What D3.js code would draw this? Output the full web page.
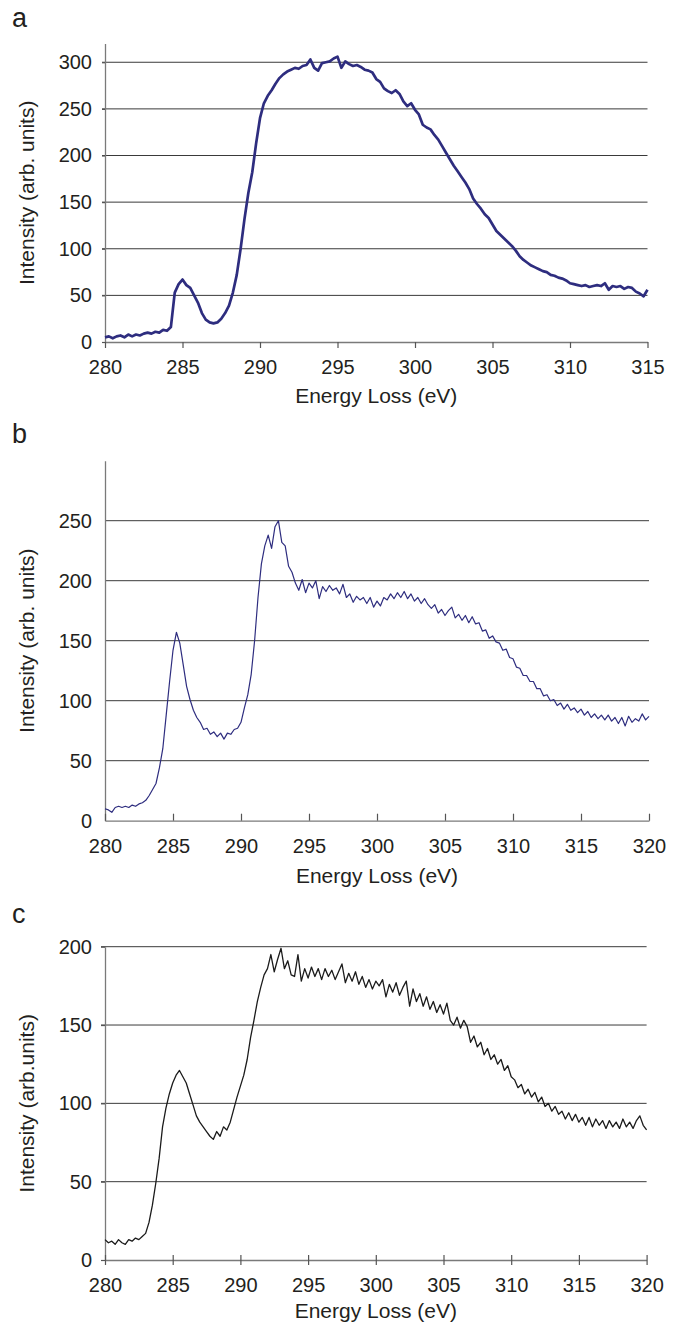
<!DOCTYPE html>
<html>
<head>
<meta charset="utf-8">
<script src="https://cdn.jsdelivr.net/npm/d3@7"></script>
<style>
body { margin: 0; background: #fff; }
text { font-family: "Liberation Sans", Arial, Helvetica, sans-serif; fill: #231f20; }
</style>
</head>
<body>
<div id="vis"></div>
<script>
var energyStart = 280, energyStep = 0.25;

var intensityA = [
  5,6,4,6,7,5,8,6,8,7,9,10,9,11,10,13,12,16,53,62,
  67,61,58,50,42,31,24,21,20,21,25,31,39,53,72,100,132,160,182,213,
  240,256,264,270,277,283,287,290,292,294,293,296,297,303,294,291,299,300,301,304,
  306,294,301,298,296,297,295,292,291,289,282,279,272,269,267,270,266,258,253,256,
  249,244,233,230,228,222,217,210,203,196,189,183,177,171,164,154,148,143,137,133,
  126,119,115,111,107,103,98,92,88,85,82,80,78,76,75,72,71,69,68,66,
  63,62,61,60,61,59,60,61,60,63,56,60,59,60,57,59,58,54,52,49,
  56
];

var intensityB = [
  10,9,7,11,12,11,12,11,13,12,14,15,17,21,26,31,44,60,88,116,
  142,157,148,130,112,101,92,86,82,76,77,72,74,70,73,68,73,72,76,77,
  82,94,105,122,150,186,214,229,238,227,245,250,232,229,212,207,198,192,201,190,
  198,194,200,185,195,191,196,192,194,189,197,186,189,182,187,184,186,181,186,178,
  183,179,186,184,189,185,190,186,191,185,189,183,186,181,185,180,177,180,173,176,
  171,175,178,169,172,167,171,165,170,164,165,158,159,152,154,149,148,142,143,136,
  135,128,127,121,121,116,116,110,110,104,105,100,101,96,98,93,97,92,94,90,
  93,88,91,86,89,85,88,84,88,83,86,81,86,79,87,82,85,83,89,84,
  87
];

var intensityC = [
  13,11,12,10,13,11,10,13,12,14,13,15,17,24,35,49,65,85,97,106,
  113,118,121,117,113,106,99,92,88,85,82,79,77,82,79,85,83,88,96,104,
  111,118,128,142,153,165,174,182,186,195,184,192,199,186,191,182,181,195,178,186,
  180,187,181,186,179,186,181,185,179,184,189,177,183,178,184,176,181,174,179,173,
  178,175,179,168,176,171,177,169,174,178,162,173,165,170,162,168,160,165,158,163,
  157,164,153,150,155,148,153,149,139,143,136,139,131,135,128,131,125,128,121,124,
  117,115,110,112,106,109,104,107,101,104,98,100,95,98,93,95,90,94,89,93,
  88,91,86,91,85,90,86,89,84,89,85,88,84,90,85,88,84,89,92,86,
  83
];

var xTicksA = [280, 285, 290, 295, 300, 305, 310, 315];
var xTicksBC = [280, 285, 290, 295, 300, 305, 310, 315, 320];
var yTicksA = [0, 50, 100, 150, 200, 250, 300];
var yTicksB = [0, 50, 100, 150, 200, 250];
var yTicksC = [0, 50, 100, 150, 200];

var svg = d3.select("#vis")
    .append("svg")
    .attr("width", 681)
    .attr("height", 1329);

var panels = [
  { letter: "a", letterY: 27, values: intensityA, xMax: 315, yMax: 320,
    xTicks: xTicksA, yTicks: yTicksA,
    left: 105, right: 647.5, top: 43.6, bottom: 342,
    xTick: "out", yTickLen: 3,
    color: "#2e2d7f", width: 2.7,
    yTitle: "Intensity (arb. units)", xTitleY: 403 },
  { letter: "b", letterY: 443, values: intensityB, xMax: 320, yMax: 300,
    xTicks: xTicksBC, yTicks: yTicksB,
    left: 105, right: 649, top: 460.7, bottom: 820.7,
    xTick: "in", yTickLen: 0,
    color: "#2e2d7f", width: 1.2,
    yTitle: "Intensity (arb. units)", xTitleY: 883 },
  { letter: "c", letterY: 923, values: intensityC, xMax: 320, yMax: 200,
    xTicks: xTicksBC, yTicks: yTicksC,
    left: 105, right: 646.6, top: 946.7, bottom: 1260,
    xTick: "cross", yTickLen: 4,
    color: "#1b1b1b", width: 1.3,
    yTitle: "Intensity (arb.units)", xTitleY: 1318 }
];

panels.forEach(drawPanel);

function drawPanel(p) {
  var x = d3.scaleLinear().domain([energyStart, p.xMax]).range([p.left, p.right]);
  var y = d3.scaleLinear().domain([0, p.yMax]).range([p.bottom, p.top]);

  var g = svg.append("g").attr("class", "panel-" + p.letter);

  // gridlines (not at zero)
  g.append("g")
    .attr("class", "grid")
    .selectAll("line")
    .data(p.yTicks.filter(function(d) { return d > 0; }))
    .enter()
    .append("line")
    .attr("x1", p.left - p.yTickLen)
    .attr("x2", p.right)
    .attr("y1", function(d) { return y(d); })
    .attr("y2", function(d) { return y(d); })
    .attr("stroke", "#3a3a3a")
    .attr("stroke-width", 1);

  // y axis
  var yAxis = d3.axisLeft(y)
    .tickValues(p.yTicks)
    .tickSizeInner(p.yTickLen)
    .tickSizeOuter(0)
    .tickPadding(13 - p.yTickLen);
  var ya = g.append("g")
    .attr("transform", "translate(" + p.left + ",0)")
    .call(yAxis);

  // x axis
  var tickOut = p.xTick == "out" ? 6 : (p.xTick == "cross" ? 5 : 0);
  var xAxis = d3.axisBottom(x)
    .tickValues(p.xTicks)
    .tickFormat(d3.format("d"))
    .tickSizeInner(tickOut)
    .tickSizeOuter(0)
    .tickPadding(18 - tickOut);
  var xa = g.append("g")
    .attr("transform", "translate(0," + p.bottom + ")")
    .call(xAxis);
  if (p.xTick != "out") {
    var up = p.xTick == "in" ? 7 : 5;
    xa.selectAll(".tick")
      .append("line")
      .attr("class", "up")
      .attr("y1", 0)
      .attr("y2", -up);
  }

  g.selectAll(".domain").attr("stroke", "#7a7a7a").attr("stroke-width", 1.3);
  g.selectAll(".tick line").attr("stroke", "#555").attr("stroke-width", 1.2);
  g.selectAll(".tick text")
    .attr("font-size", "20px")
    .attr("font-family", "'Liberation Sans', Arial, sans-serif")
    .attr("fill", "#231f20");

  // spectrum
  var line = d3.line()
    .x(function(d, i) { return x(energyStart + i * energyStep); })
    .y(function(d) { return y(d); });

  g.append("path")
    .datum(p.values)
    .attr("d", line)
    .attr("fill", "none")
    .attr("stroke", p.color)
    .attr("stroke-width", p.width)
    .attr("stroke-linejoin", "round");

  // titles
  g.append("text")
    .attr("x", (p.left + p.right) / 2)
    .attr("y", p.xTitleY)
    .attr("text-anchor", "middle")
    .attr("font-size", "21px")
    .text("Energy Loss (eV)");

  g.append("text")
    .attr("transform", "translate(34," + ((p.top + p.bottom) / 2) + ") rotate(-90)")
    .attr("text-anchor", "middle")
    .attr("font-size", "21px")
    .text(p.yTitle);

  g.append("text")
    .attr("x", 12)
    .attr("y", p.letterY)
    .attr("font-size", "27px")
    .text(p.letter);
}
</script>
</body>
</html>
